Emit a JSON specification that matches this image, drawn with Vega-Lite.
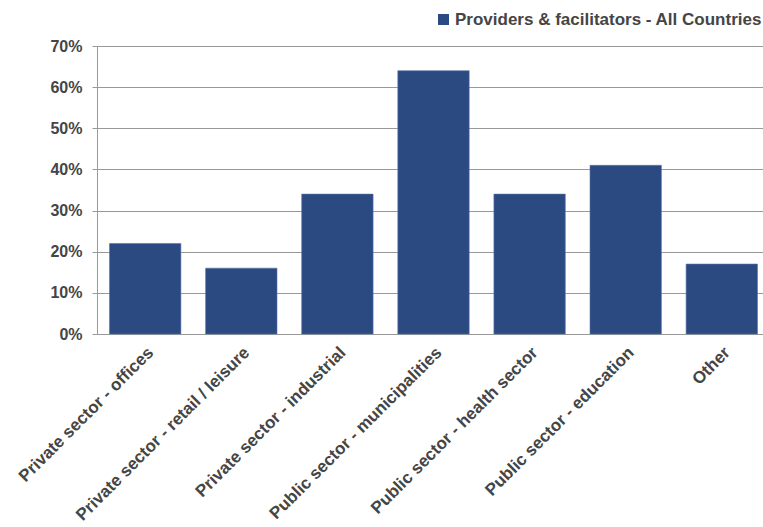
{
  "$schema": "https://vega.github.io/schema/vega-lite/v6.json",
  "autosize": "none",
  "width": 666,
  "height": 288,
  "padding": {"left": 97, "top": 46, "right": 0, "bottom": 193},
  "background": "white",
  "config": {"view": {"stroke": null}, "font": "Liberation Sans"},
  "data": {"values": [
    {"sector": "Private sector - offices", "value": 0.22, "series": "Providers & facilitators - All Countries"},
    {"sector": "Private sector - retail / leisure", "value": 0.16, "series": "Providers & facilitators - All Countries"},
    {"sector": "Private sector - industrial", "value": 0.34, "series": "Providers & facilitators - All Countries"},
    {"sector": "Public sector - municipalities", "value": 0.64, "series": "Providers & facilitators - All Countries"},
    {"sector": "Public sector - health sector", "value": 0.34, "series": "Providers & facilitators - All Countries"},
    {"sector": "Public sector - education", "value": 0.41, "series": "Providers & facilitators - All Countries"},
    {"sector": "Other", "value": 0.17, "series": "Providers & facilitators - All Countries"}
  ]},
  "mark": {"type": "bar", "stroke": "#5a74a6", "strokeWidth": 0.6},
  "encoding": {
    "x": {
      "field": "sector", "type": "nominal", "sort": null,
      "scale": {"paddingInner": 0.257, "paddingOuter": 0.13, "range": [0, 673]},
      "axis": {
        "title": null, "labelAngle": -45, "labelAlign": "right", "labelBaseline": "top",
        "labelFont": "Liberation Sans", "labelFontSize": 17, "labelFontWeight": "bold",
        "labelColor": "#454545", "ticks": false, "domainColor": "#999999", "labelPadding": 10,
        "labelLimit": 400
      }
    },
    "y": {
      "field": "value", "type": "quantitative",
      "scale": {"domain": [0, 0.7], "nice": false},
      "axis": {
        "title": null, "format": ".0%", "values": [0, 0.1, 0.2, 0.3, 0.4, 0.5, 0.6, 0.7],
        "labelFont": "Liberation Sans", "labelFontSize": 16, "labelFontWeight": "bold",
        "labelColor": "#454545", "tickColor": "#999999", "tickSize": 5, "domainColor": "#999999",
        "gridColor": "#999999", "labelPadding": 10
      }
    },
    "color": {
      "field": "series", "type": "nominal",
      "scale": {"range": ["#2B4A82"]},
      "legend": {
        "title": null, "orient": "none", "legendX": 338, "legendY": -35,
        "symbolType": "square", "symbolSize": 120, "symbolStrokeWidth": 0,
        "labelFont": "Liberation Sans", "labelFontSize": 17, "labelFontWeight": "bold",
        "labelColor": "#454545", "labelOffset": 3, "labelLimit": 400
      }
    }
  }
}
